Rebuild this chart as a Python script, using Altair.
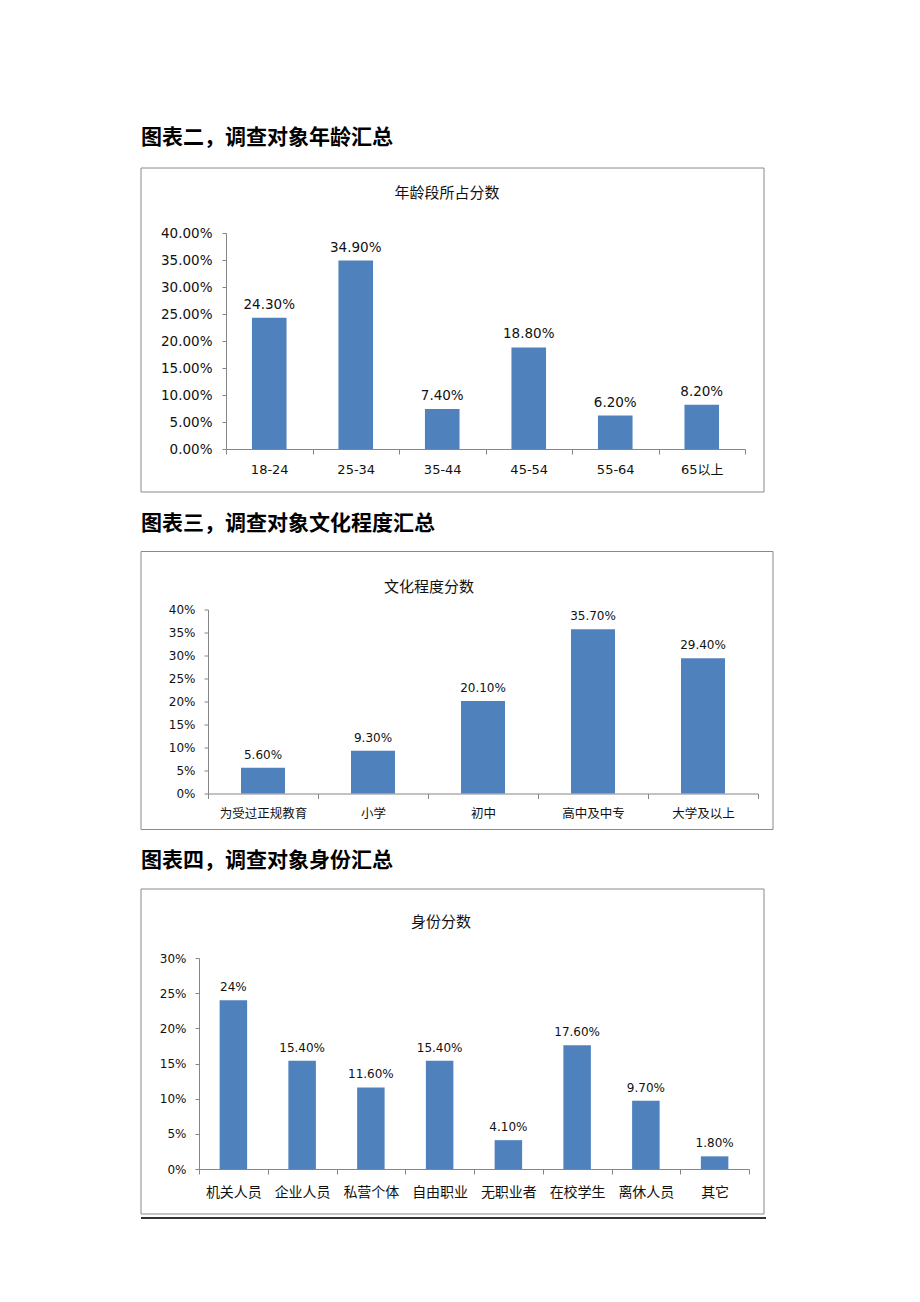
import altair as alt
import pandas as pd

# ---- data ----
age_groups = ["18-24", "25-34", "35-44", "45-54", "55-64", "65以上"]
age_values = [0.243, 0.349, 0.074, 0.188, 0.062, 0.082]
age_labels = ["24.30%", "34.90%", "7.40%", "18.80%", "6.20%", "8.20%"]
age_ticks = [0, 0.05, 0.10, 0.15, 0.20, 0.25, 0.30, 0.35, 0.40]

edu_groups = ["为受过正规教育", "小学", "初中", "高中及中专", "大学及以上"]
edu_values = [0.056, 0.093, 0.201, 0.357, 0.294]
edu_labels = ["5.60%", "9.30%", "20.10%", "35.70%", "29.40%"]
edu_ticks = [0, 0.05, 0.10, 0.15, 0.20, 0.25, 0.30, 0.35, 0.40]

id_groups = ["机关人员", "企业人员", "私营个体", "自由职业", "无职业者", "在校学生", "离休人员", "其它"]
id_values = [0.24, 0.154, 0.116, 0.154, 0.041, 0.176, 0.097, 0.018]
id_labels = ["24%", "15.40%", "11.60%", "15.40%", "4.10%", "17.60%", "9.70%", "1.80%"]
id_ticks = [0, 0.05, 0.10, 0.15, 0.20, 0.25, 0.30]

headings = ["图表二，调查对象年龄汇总", "图表三，调查对象文化程度汇总", "图表四，调查对象身份汇总"]
titles = ["年龄段所占分数", "文化程度分数", "身份分数"]

BAR = "#4F81BD"
GRID = "#868686"
CJK = "Noto Sans CJK SC"


def panel(cats, vals, labs, ticks, fmt, w, h, heading, title,
          box, title_xy, head_y, tick_font, tick_size, xlab_font, xlab_size,
          xlab_pad, ylab_pad, extra_rule=False):
    df = pd.DataFrame({"cat": cats, "val": vals, "lab": labs})
    one = pd.DataFrame({"k": [0]})
    bl, br, bt, bb = box  # relative to plot area

    x = alt.X("cat:N", sort=cats,
              scale=alt.Scale(paddingInner=0, paddingOuter=0),
              axis=alt.Axis(title=None, labelAngle=0, tickBand="extent",
                            labelOverlap=False, labelFont=xlab_font,
                            labelFontSize=xlab_size, labelPadding=xlab_pad,
                            labelColor="#111", domainColor=GRID,
                            tickColor=GRID, tickSize=5))
    y = alt.Y("val:Q",
              scale=alt.Scale(domain=[0, ticks[-1]], nice=False),
              axis=alt.Axis(title=None, values=ticks, format=fmt, grid=False,
                            labelOverlap=False, labelFlush=False,
                            labelFont=tick_font, labelFontSize=tick_size,
                            labelPadding=ylab_pad, labelColor="#111",
                            domainColor=GRID, tickColor=GRID, tickSize=4))

    frame = alt.Chart(one).mark_rect(opacity=0).encode(
        x=alt.value(bl), x2=alt.value(w + br),
        y=alt.value(head_y - 15), y2=alt.value(h + bb))
    boxm = alt.Chart(one).mark_rect(fillOpacity=0, stroke="#8a8a8a",
                                    strokeWidth=1).encode(
        x=alt.value(bl), x2=alt.value(w + br),
        y=alt.value(bt), y2=alt.value(h + bb))
    bars = alt.Chart(df).mark_bar(color=BAR,
                                  width=alt.RelativeBandSize(0.4)).encode(x=x, y=y)
    text = alt.Chart(df).mark_text(baseline="alphabetic", dy=-9,
                                   font=tick_font, fontSize=tick_size,
                                   color="#111").encode(
        x=x, y=y, text="lab:N")
    ttl = alt.Chart(one).mark_text(font=CJK, fontSize=15, baseline="middle",
                                   align="center", color="#111").encode(
        x=alt.value(title_xy[0]), y=alt.value(title_xy[1]),
        text=alt.value(title))
    head = alt.Chart(one).mark_text(font=CJK, fontSize=21, fontWeight="bold",
                                    baseline="middle", align="left",
                                    color="#000").encode(
        x=alt.value(bl), y=alt.value(head_y), text=alt.value(heading))
    layers = [frame, boxm, bars, text, ttl, head]
    if extra_rule:
        rule = alt.Chart(one).mark_rule(color="#333", strokeWidth=2).encode(
            x=alt.value(bl), x2=alt.value(w + br + 2), y=alt.value(h + bb + 4))
        layers.append(rule)
    chart = alt.layer(*layers).properties(width=w, height=h)
    spacer = alt.Chart(one).mark_rect(opacity=0).encode(
        x=alt.value(0), x2=alt.value(1), y=alt.value(0), y2=alt.value(1)
    ).properties(width=1, height=1)
    return alt.hconcat(spacer, chart, spacing=0)


c1 = panel(age_groups, age_values, age_labels, age_ticks, ".2%", 519, 216,
           headings[0], titles[0], (-85, 19, -65, 43), (221, -40), -95,
           "DejaVu Sans", 13.5, "DejaVu Sans, Noto Sans CJK SC", 13, 9, 10)
c2 = panel(edu_groups, edu_values, edu_labels, edu_ticks, ".0%", 550, 184,
           headings[1], titles[1], (-67, 15, -58, 36), (221, -23), -86,
           "DejaVu Sans", 12, CJK, 12.5, 9, 9)
c3 = panel(id_groups, id_values, id_labels, id_ticks, ".0%", 550, 211,
           headings[2], titles[2], (-58, 15, -69, 45), (242, -36), -97,
           "DejaVu Sans", 12, CJK, 14, 11, 9, extra_rule=True)

chart = alt.vconcat(c1, c2, c3, spacing=15.5).properties(
    padding={"left": 131, "top": 115, "right": 5, "bottom": 5}
).configure_view(stroke="transparent", strokeWidth=0)

chart.save("out.html", embed_options={"renderer": "svg", "actions": False})
